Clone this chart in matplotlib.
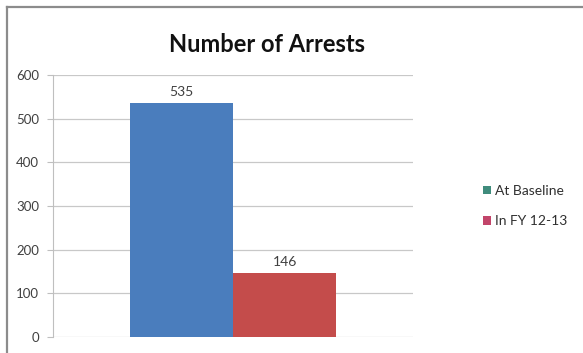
import matplotlib.pyplot as plt
from matplotlib.patches import Patch
from matplotlib.lines import Line2D

# arrest counts
series = ['At Baseline', 'In FY 12-13']
arrests = [535, 146]
bar_colors = ['#4a7dbd', '#c44c4b']
key_colors = ['#3f8c7c', '#c2456a']
yticks = [0, 100, 200, 300, 400, 500, 600]

plt.rcParams['font.family'] = ['Lato', 'DejaVu Sans']

fig = plt.figure(figsize=(5.83, 3.53), dpi=100)
fig.patch.set_facecolor('white')

# outer chart border (top and left edges)
fig.add_artist(Line2D([7/583, 7/583], [0, 1 - 7/353], color='#8c8c8c', lw=1.6))
fig.add_artist(Line2D([7/583, 1], [1 - 7/353, 1 - 7/353], color='#8c8c8c', lw=1.6))

ax = fig.add_axes([53/583, 16/353, 360/583, 262/353])
xs = [-0.25, 0.25]
bars = ax.bar(xs, arrests, width=0.5, color=bar_colors)
for b, v in zip(bars, arrests):
    ax.text(b.get_x() + b.get_width() / 2, v + 12, str(v), ha='center', va='bottom',
            fontsize=10, color='#404040')

ax.set_xlim(-0.87, 0.87)
ax.set_ylim(0, 600)
ax.set_yticks(yticks)
ax.set_xticks([])
ax.tick_params(axis='y', length=4, color='#bfbfbf', labelsize=9.5, labelcolor='#404040', pad=6)
ax.yaxis.grid(True, color='#c8c8c8', lw=0.9)
ax.set_axisbelow(True)
for s in ['top', 'right', 'bottom']:
    ax.spines[s].set_visible(False)
ax.spines['left'].set_color('#bfbfbf')

fig.text(267/583, 1 - 44/353, 'Number of Arrests', ha='center', va='center',
         fontsize=17, fontweight='bold', color='#111111')

handles = [Patch(facecolor=c, edgecolor='none') for c in key_colors]
fig.legend(handles, series, loc='center left', bbox_to_anchor=(470/583, 1 - 206/353),
           frameon=False, fontsize=10, handlelength=0.6, handleheight=0.6,
           handletextpad=0.3, labelspacing=1.3, labelcolor='#303030')

fig.savefig('out.png', dpi=100)
